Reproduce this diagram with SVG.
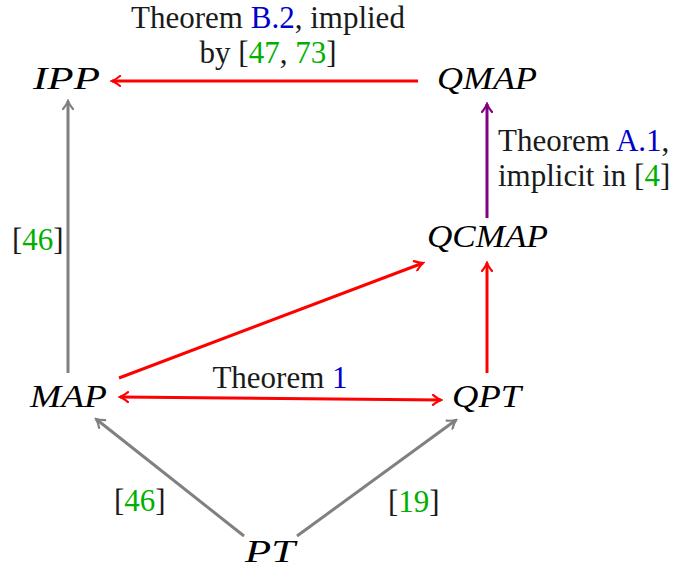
<svg xmlns="http://www.w3.org/2000/svg" width="673" height="572" viewBox="0 0 673 572">
<style>
.n{font-family:"Liberation Serif","DejaVu Serif",serif;font-style:italic;font-size:32px;fill:#000}
.t{font-family:"Liberation Serif","DejaVu Serif",serif;font-size:31px;fill:#1a1a1a}
.b{fill:#0000cc}.g{fill:#00b000}
.e{fill:none;stroke-width:3}
.red{stroke:#ff0000}.gray{stroke:#808080}.pur{stroke:#800080}
</style>
<defs>
<marker id="ar" viewBox="-10 -6 12 12" refX="0" refY="0" markerWidth="12" markerHeight="12" markerUnits="userSpaceOnUse" orient="auto-start-reverse">
<path d="M-8,-5 Q-3,-1 0,0 Q-3,1 -8,5" fill="none" stroke="#ff0000" stroke-width="2.2" stroke-linecap="round"/>
</marker>
<marker id="ag" viewBox="-10 -6 12 12" refX="0" refY="0" markerWidth="12" markerHeight="12" markerUnits="userSpaceOnUse" orient="auto">
<path d="M-8,-5 Q-3,-1 0,0 Q-3,1 -8,5" fill="none" stroke="#808080" stroke-width="2.2" stroke-linecap="round"/>
</marker>
<marker id="ap" viewBox="-10 -6 12 12" refX="0" refY="0" markerWidth="12" markerHeight="12" markerUnits="userSpaceOnUse" orient="auto">
<path d="M-8,-5 Q-3,-1 0,0 Q-3,1 -8,5" fill="none" stroke="#800080" stroke-width="2.2" stroke-linecap="round"/>
</marker>
</defs>
<g id="connectors">
<line class="e red" x1="418" y1="81" x2="112" y2="81" marker-end="url(#ar)"/>
<line class="e pur" x1="487" y1="218" x2="487" y2="104" marker-end="url(#ap)"/>
<line class="e red" x1="487" y1="373" x2="487" y2="263" marker-end="url(#ar)"/>
<line class="e red" x1="119" y1="378" x2="423" y2="263" marker-end="url(#ar)"/>
<line class="e gray" x1="68" y1="373" x2="68" y2="101" marker-end="url(#ag)"/>
<line class="e red" x1="120" y1="397" x2="441" y2="400" marker-start="url(#ar)" marker-end="url(#ar)"/>
<line class="e gray" x1="244" y1="536" x2="96" y2="419" marker-end="url(#ag)"/>
<line class="e gray" x1="297" y1="536" x2="456" y2="420" marker-end="url(#ag)"/>
</g>
<g id="labels">
<text class="t" x="268" y="28" text-anchor="middle">Theorem <tspan class="b">B.2</tspan>, implied</text>
<text class="t" x="268" y="63" text-anchor="middle">by [<tspan class="g">47</tspan>, <tspan class="g">73</tspan>]</text>
<text class="t" x="498" y="151">Theorem <tspan class="b">A.1</tspan>,</text>
<text class="t" x="498" y="186">implicit in [<tspan class="g">4</tspan>]</text>
<text class="t" x="12" y="250">[<tspan class="g">46</tspan>]</text>
<text class="t" x="280" y="388" text-anchor="middle">Theorem <tspan class="b">1</tspan></text>
<text class="t" x="114" y="511">[<tspan class="g">46</tspan>]</text>
<text class="t" x="388" y="512">[<tspan class="g">19</tspan>]</text>
</g>
<g id="IPP"><text class="n" x="33" y="89" textLength="67" lengthAdjust="spacingAndGlyphs">IPP</text></g>
<g id="QMAP"><text class="n" x="437" y="89" textLength="100" lengthAdjust="spacingAndGlyphs">QMAP</text></g>
<g id="QCMAP"><text class="n" x="427" y="247" textLength="121" lengthAdjust="spacingAndGlyphs">QCMAP</text></g>
<g id="MAP"><text class="n" x="30" y="407" textLength="77" lengthAdjust="spacingAndGlyphs">MAP</text></g>
<g id="QPT"><text class="n" x="452" y="407" textLength="69" lengthAdjust="spacingAndGlyphs">QPT</text></g>
<g id="PT"><text class="n" x="245" y="562" textLength="50" lengthAdjust="spacingAndGlyphs">PT</text></g>
</svg>
